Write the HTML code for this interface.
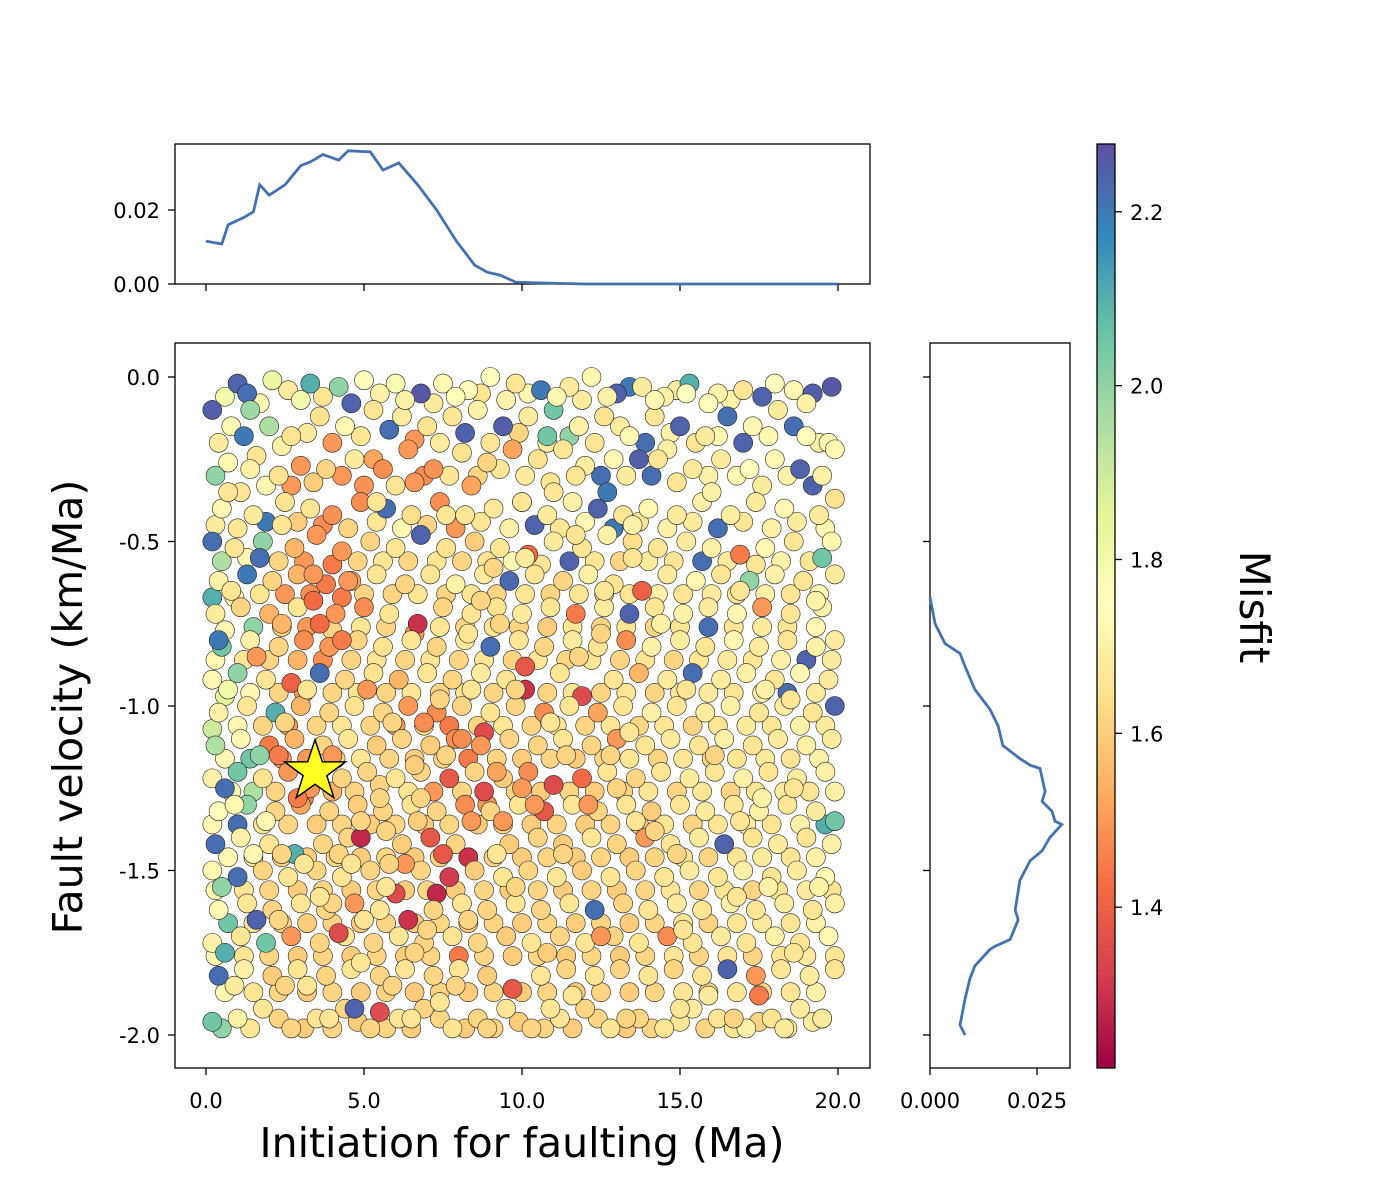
<!DOCTYPE html>
<html><head><meta charset="utf-8">
<style>
html,body{margin:0;padding:0;background:#fff;}
svg{display:block;font-family:"DejaVu Sans","Liberation Sans",sans-serif;}
</style></head>
<body>
<svg id="fig" width="1400" height="1200" viewBox="0 0 1400 1200" xmlns="http://www.w3.org/2000/svg">
<defs>
<linearGradient id="spec" x1="0" y1="1" x2="0" y2="0">
<stop offset="0" stop-color="#9e0142"/><stop offset="0.1" stop-color="#d53e4f"/><stop offset="0.2" stop-color="#f46d43"/><stop offset="0.3" stop-color="#fdae61"/><stop offset="0.4" stop-color="#fee08b"/><stop offset="0.5" stop-color="#ffffbf"/><stop offset="0.6" stop-color="#e6f598"/><stop offset="0.7" stop-color="#abdda4"/><stop offset="0.8" stop-color="#66c2a5"/><stop offset="0.9" stop-color="#3288bd"/><stop offset="1" stop-color="#5e4fa2"/>
</linearGradient>
<clipPath id="mainclip"><rect x="175" y="343" width="695" height="725"/></clipPath>
</defs>
<g id="scatter" clip-path="url(#mainclip)"></g>
<rect x="175" y="343" width="695" height="725" fill="none" stroke="#000" stroke-width="1.3"/>
<rect x="175" y="144" width="695" height="140" fill="none" stroke="#000" stroke-width="1.3"/>
<rect x="930" y="343" width="140" height="725" fill="none" stroke="#000" stroke-width="1.3"/>
<rect x="1097" y="144" width="18" height="924" fill="url(#spec)" stroke="#000" stroke-width="1.3"/>
<g id="axes"></g>
<text x="522" y="1157" font-size="41" text-anchor="middle">Initiation for faulting (Ma)</text>
<text transform="translate(82,707) rotate(-90)" font-size="41" text-anchor="middle">Fault velocity (km/Ma)</text>
<text transform="translate(1240,607) rotate(90)" font-size="42" text-anchor="middle">Misfit</text>
</svg>
<script>
const xTicks=[0,5,10,15,20];
const xTickLabels=["0.0","5.0","10.0","15.0","20.0"];
const yTicks=[0,-0.5,-1,-1.5,-2];
const yTickLabels=["0.0","-0.5","-1.0","-1.5","-2.0"];
const topTicks=[0,0.02];
const topTickLabels=["0.00","0.02"];
const rightTicks=[0,0.025];
const rightTickLabels=["0.000","0.025"];
const cbTicks=[1.4,1.6,1.8,2.0,2.2];
const cbTickLabels=["1.4","1.6","1.8","2.0","2.2"];
const bestFit=[3.45,-1.2];
const topX=[0,0.5,0.7,1.2,1.5,1.7,2.0,2.5,3.0,3.3,3.7,4.2,4.5,5.2,5.6,6.1,6.7,7.3,7.9,8.5,8.9,9.3,9.8,10.5,12,14,16,18,20];
const topD=[0.0116,0.0108,0.016,0.018,0.0195,0.0268,0.024,0.0268,0.032,0.033,0.035,0.0335,0.036,0.0357,0.0308,0.0327,0.0268,0.02,0.0119,0.0051,0.0032,0.0024,0.0005,0.0003,0,0,0,0,0];
const rightY=[-0.67,-0.75,-0.81,-0.84,-0.88,-0.95,-1.01,-1.06,-1.12,-1.16,-1.18,-1.19,-1.26,-1.29,-1.32,-1.35,-1.36,-1.4,-1.44,-1.47,-1.53,-1.62,-1.65,-1.71,-1.73,-1.74,-1.79,-1.83,-1.89,-1.97,-2.0];
const rightD=[0,0.0012,0.0035,0.007,0.0082,0.0105,0.014,0.0159,0.017,0.021,0.0234,0.0257,0.0269,0.0262,0.0285,0.0292,0.0308,0.028,0.0262,0.0234,0.021,0.0199,0.0206,0.0187,0.0152,0.014,0.0105,0.0093,0.0082,0.007,0.0082];
const pts=[
[0.2,-0.1,2.25],[1.0,-0.02,2.24],[1.3,-0.05,2.22],[2.1,-0.01,1.82],[3.3,-0.02,2.1],[4.2,-0.03,2.0],[5.0,-0.01,1.75],[6.0,-0.02,1.78],[6.8,-0.05,2.26],[7.5,-0.02,1.72],[8.3,-0.04,1.74],[9.0,0.0,1.75],[9.8,-0.02,1.66],[10.6,-0.04,2.2],[11.5,-0.03,1.68],[12.2,0.0,1.72],[13.0,-0.05,2.24],[13.8,-0.03,1.68],[14.5,-0.06,1.7],[15.3,-0.02,2.1],[16.2,-0.05,1.7],[17.0,-0.04,1.66],[18.0,-0.02,1.75],[19.2,-0.05,2.25],[19.8,-0.03,2.26],
[0.4,-0.2,1.68],[1.2,-0.18,2.2],[2.0,-0.15,1.95],[2.7,-0.18,1.66],[3.6,-0.12,1.65],[4.4,-0.15,1.72],[5.3,-0.1,1.66],[6.2,-0.12,1.68],[7.0,-0.15,1.65],[7.8,-0.12,1.66],[8.6,-0.1,1.7],[9.4,-0.15,2.25],[10.2,-0.12,1.68],[11.0,-0.1,2.05],[11.8,-0.15,1.66],[12.6,-0.12,1.65],[13.4,-0.18,1.72],[14.2,-0.12,1.66],[15.0,-0.15,2.24],[15.8,-0.18,1.68],[16.5,-0.12,2.22],[17.3,-0.15,1.72],[18.1,-0.1,1.68],[19.0,-0.18,1.74],[19.7,-0.2,1.72],
[0.3,-0.3,2.0],[1.4,-0.28,1.7],[2.3,-0.3,1.65],[3.0,-0.27,1.5],[3.8,-0.28,1.62],[4.7,-0.25,1.68],[5.6,-0.28,1.48],[6.4,-0.22,1.5],[7.2,-0.28,1.49],[8.1,-0.23,1.65],[8.9,-0.26,1.62],[9.7,-0.22,1.52],[10.5,-0.25,1.65],[11.3,-0.22,1.66],[12.0,-0.27,1.69],[12.9,-0.25,1.72],[13.7,-0.25,2.25],[14.6,-0.22,1.7],[15.4,-0.28,1.67],[16.3,-0.25,1.68],[17.2,-0.28,1.74],[18.0,-0.25,1.72],[18.8,-0.28,2.24],[19.5,-0.3,1.7],[5.0,-0.33,1.49],[8.4,-0.33,1.52],[11.7,-0.3,1.66],
[0.5,-0.4,1.72],[1.5,-0.42,1.68],[2.5,-0.38,1.65],[3.3,-0.4,1.66],[4.0,-0.42,1.49],[4.9,-0.38,1.48],[5.7,-0.4,2.22],[6.5,-0.42,1.64],[7.4,-0.38,1.48],[8.2,-0.42,1.66],[9.1,-0.4,1.67],[10.0,-0.38,2.25],[10.8,-0.42,1.68],[11.6,-0.38,1.7],[12.4,-0.4,2.24],[13.2,-0.42,1.66],[14.0,-0.4,1.72],[14.9,-0.42,1.68],[15.7,-0.38,1.7],[16.6,-0.42,1.69],[17.4,-0.38,1.68],[18.3,-0.4,1.72],[19.4,-0.42,1.68],[19.9,-0.37,1.65],
[0.2,-0.5,2.22],[0.9,-0.52,1.66],[1.8,-0.5,2.0],[2.8,-0.52,1.55],[3.5,-0.48,1.5],[4.3,-0.53,1.5],[5.2,-0.5,1.62],[6.0,-0.52,1.66],[6.8,-0.48,2.24],[7.6,-0.52,1.65],[8.5,-0.5,1.6],[9.3,-0.52,1.66],[10.2,-0.54,1.42],[11.0,-0.5,1.68],[11.9,-0.52,1.66],[12.7,-0.48,1.7],[13.5,-0.5,1.64],[14.3,-0.52,1.66],[15.2,-0.5,1.68],[16.0,-0.52,1.7],[16.9,-0.54,1.45],[17.7,-0.52,1.72],[18.6,-0.5,1.66],[19.5,-0.55,2.05],
[0.4,-0.62,1.7],[1.3,-0.6,2.2],[2.1,-0.62,1.62],[2.9,-0.6,1.55],[3.8,-0.63,1.45],[4.6,-0.62,1.52],[5.4,-0.6,1.66],[6.3,-0.63,1.62],[7.1,-0.6,1.66],[7.9,-0.63,1.7],[8.8,-0.6,1.68],[9.6,-0.62,2.23],[10.4,-0.6,1.66],[11.3,-0.62,1.62],[12.1,-0.6,1.7],[12.9,-0.63,1.66],[13.8,-0.65,1.4],[14.6,-0.6,1.68],[15.5,-0.62,1.72],[16.3,-0.6,1.66],[17.2,-0.62,2.0],[18.0,-0.6,1.7],[18.9,-0.62,1.66],[19.9,-0.6,1.68],
[0.3,-0.72,1.68],[1.1,-0.7,1.62],[2.0,-0.72,1.55],[2.9,-0.7,1.66],[3.4,-0.68,1.42],[4.1,-0.72,1.5],[5.0,-0.7,1.48],[5.8,-0.72,1.66],[6.7,-0.75,1.3],[7.5,-0.7,1.62],[8.4,-0.72,1.66],[9.2,-0.7,1.65],[10.0,-0.72,1.68],[10.9,-0.7,1.66],[11.7,-0.72,1.45],[12.6,-0.7,1.68],[13.4,-0.72,2.24],[14.2,-0.7,1.66],[15.1,-0.72,1.7],[15.9,-0.7,1.68],[16.8,-0.72,1.72],[17.6,-0.7,1.5],[18.5,-0.72,1.66],[19.5,-0.7,1.7],
[0.5,-0.82,2.05],[1.4,-0.8,1.7],[2.3,-0.82,1.62],[3.1,-0.8,1.48],[3.9,-0.82,1.5],[4.8,-0.8,1.62],[5.6,-0.82,1.65],[6.5,-0.8,1.66],[7.3,-0.82,1.62],[8.2,-0.8,1.68],[9.0,-0.82,2.22],[9.9,-0.8,1.66],[10.7,-0.82,1.62],[11.6,-0.8,1.68],[12.4,-0.82,1.66],[13.3,-0.8,1.48],[14.1,-0.82,1.7],[15.0,-0.8,1.68],[15.8,-0.82,1.66],[16.7,-0.8,1.72],[17.5,-0.82,1.68],[18.4,-0.8,1.66],[19.3,-0.82,1.7],[10.1,-0.88,1.38],
[0.2,-0.92,1.72],[1.0,-0.9,2.0],[1.9,-0.92,1.66],[2.7,-0.93,1.4],[3.6,-0.9,2.22],[4.4,-0.92,1.62],[5.3,-0.9,1.65],[6.1,-0.92,1.55],[7.0,-0.9,1.66],[7.8,-0.92,1.62],[8.7,-0.9,1.68],[9.5,-0.92,1.66],[10.1,-0.95,1.3],[11.2,-0.9,1.66],[11.9,-0.97,1.35],[12.9,-0.92,1.66],[13.7,-0.9,1.55],[14.6,-0.92,1.68],[15.4,-0.9,2.22],[16.3,-0.92,1.68],[17.1,-0.9,1.7],[18.0,-0.92,1.66],[18.8,-0.9,1.72],[19.7,-0.92,1.68],
[0.4,-1.02,1.7],[1.3,-1.0,1.66],[2.2,-1.02,2.1],[3.0,-1.0,1.55],[3.9,-1.02,1.62],[4.7,-1.0,1.65],[5.6,-1.02,1.62],[6.4,-1.0,1.5],[7.3,-1.02,1.48],[8.1,-1.0,1.62],[9.0,-1.02,1.65],[9.8,-1.0,1.62],[10.7,-1.02,1.48],[11.5,-1.0,1.66],[12.4,-1.02,1.52],[13.2,-1.0,1.66],[14.1,-1.02,1.7],[14.9,-1.0,1.66],[15.8,-1.02,1.68],[16.6,-1.0,1.7],[17.5,-1.02,1.66],[18.3,-1.0,1.68],[19.2,-1.02,1.66],[19.9,-1.0,2.24],
[0.3,-1.12,1.95],[1.1,-1.1,1.72],[2.0,-1.12,1.45],[2.8,-1.1,1.55],[3.7,-1.12,1.62],[4.5,-1.1,1.66],[5.4,-1.12,1.6],[6.2,-1.1,1.62],[7.1,-1.12,1.6],[7.9,-1.1,1.48],[8.8,-1.08,1.35],[9.6,-1.1,1.62],[10.5,-1.12,1.62],[11.3,-1.1,1.66],[12.2,-1.12,1.62],[13.0,-1.1,1.5],[13.9,-1.12,1.66],[14.7,-1.1,1.68],[15.6,-1.12,1.66],[16.4,-1.1,1.7],[17.3,-1.12,1.66],[18.1,-1.1,1.68],[19.0,-1.12,1.7],[19.8,-1.1,1.68],
[0.2,-1.22,1.7],[1.0,-1.2,2.05],[1.8,-1.22,1.65],[2.6,-1.2,1.5],[4.3,-1.22,1.62],[5.1,-1.2,1.62],[6.0,-1.22,1.66],[6.8,-1.2,1.62],[7.7,-1.22,1.38],[8.5,-1.2,1.62],[9.4,-1.22,1.6],[10.2,-1.2,1.48],[11.0,-1.24,1.35],[11.9,-1.22,1.42],[12.7,-1.2,1.66],[13.6,-1.22,1.62],[14.4,-1.2,1.66],[15.3,-1.22,1.68],[16.1,-1.2,1.66],[17.0,-1.22,1.7],[17.8,-1.2,1.66],[18.7,-1.22,1.68],[19.6,-1.2,1.7],[8.8,-1.26,1.35],
[0.4,-1.32,1.75],[1.3,-1.3,2.0],[2.2,-1.32,1.62],[3.0,-1.3,1.52],[3.9,-1.32,1.62],[4.8,-1.3,1.6],[5.6,-1.32,1.62],[6.5,-1.3,1.66],[7.3,-1.32,1.62],[8.2,-1.3,1.48],[9.0,-1.32,1.62],[9.9,-1.3,1.66],[10.7,-1.32,1.38],[11.6,-1.3,1.66],[12.4,-1.32,1.62],[13.3,-1.3,1.66],[14.1,-1.32,1.6],[15.0,-1.3,1.66],[15.8,-1.32,1.68],[16.7,-1.3,1.66],[17.5,-1.32,1.7],[18.4,-1.3,1.66],[19.3,-1.32,1.68],[19.9,-1.35,2.05],
[0.3,-1.42,2.22],[1.1,-1.4,1.7],[2.0,-1.42,1.66],[2.8,-1.45,2.1],[3.7,-1.42,1.62],[4.5,-1.4,1.62],[4.9,-1.4,1.28],[6.2,-1.42,1.6],[7.1,-1.4,1.38],[7.9,-1.42,1.62],[8.3,-1.46,1.3],[9.6,-1.42,1.6],[10.5,-1.4,1.62],[11.3,-1.42,1.6],[12.2,-1.4,1.66],[13.0,-1.42,1.62],[13.9,-1.4,1.5],[14.7,-1.42,1.66],[15.6,-1.4,1.68],[16.4,-1.42,2.24],[17.3,-1.4,1.66],[18.1,-1.42,1.68],[19.0,-1.4,1.66],[19.8,-1.42,1.7],
[0.2,-1.5,1.72],[1.0,-1.52,2.22],[1.8,-1.5,1.62],[2.6,-1.52,1.66],[3.5,-1.5,1.62],[4.3,-1.52,1.66],[5.2,-1.5,1.62],[6.0,-1.57,1.35],[6.8,-1.5,1.62],[7.7,-1.52,1.32],[8.5,-1.5,1.6],[9.4,-1.52,1.66],[10.2,-1.5,1.62],[11.1,-1.52,1.66],[11.9,-1.5,1.6],[12.8,-1.52,1.66],[13.6,-1.5,1.62],[14.5,-1.52,1.66],[15.3,-1.5,1.68],[16.2,-1.52,1.66],[17.0,-1.5,1.7],[17.9,-1.52,1.66],[18.7,-1.5,1.68],[19.6,-1.52,1.72],[7.3,-1.57,1.28],
[0.4,-1.62,1.72],[1.3,-1.6,1.66],[2.1,-1.62,1.62],[3.0,-1.6,1.66],[3.8,-1.62,1.62],[4.7,-1.6,1.5],[5.5,-1.62,1.66],[6.4,-1.65,1.3],[7.2,-1.62,1.62],[8.1,-1.6,1.66],[8.9,-1.62,1.62],[9.8,-1.6,1.66],[10.6,-1.62,1.62],[11.5,-1.6,1.66],[12.3,-1.62,2.22],[13.2,-1.6,1.62],[14.0,-1.62,1.66],[14.9,-1.6,1.68],[15.7,-1.62,1.66],[16.6,-1.6,1.7],[17.4,-1.62,1.66],[18.3,-1.6,1.68],[19.2,-1.62,1.66],[19.9,-1.6,1.7],
[0.2,-1.72,1.7],[1.1,-1.7,1.66],[1.9,-1.72,2.05],[2.7,-1.7,1.5],[3.6,-1.72,1.62],[4.4,-1.7,1.66],[5.3,-1.72,1.62],[6.1,-1.7,1.66],[6.9,-1.72,1.62],[7.8,-1.7,1.66],[8.6,-1.72,1.62],[9.5,-1.7,1.6],[10.3,-1.72,1.66],[11.2,-1.7,1.62],[12.0,-1.72,1.66],[12.9,-1.7,1.62],[13.7,-1.72,1.66],[14.6,-1.7,1.48],[15.4,-1.72,1.66],[16.3,-1.7,1.68],[17.1,-1.72,1.66],[18.0,-1.7,1.7],[18.8,-1.72,1.66],[19.7,-1.7,1.72],[4.2,-1.69,1.35],
[0.4,-1.82,2.22],[1.2,-1.8,1.7],[2.1,-1.82,1.6],[2.9,-1.8,1.66],[3.8,-1.82,1.62],[4.6,-1.8,1.66],[5.5,-1.82,1.62],[6.3,-1.8,1.66],[7.2,-1.82,1.62],[8.0,-1.8,1.66],[8.9,-1.82,1.6],[9.7,-1.86,1.38],[10.6,-1.82,1.66],[11.4,-1.8,1.62],[12.3,-1.82,1.66],[13.1,-1.8,1.62],[14.0,-1.82,1.66],[14.8,-1.8,1.62],[15.7,-1.82,1.66],[16.5,-1.8,2.24],[17.4,-1.82,1.5],[18.2,-1.8,1.66],[19.1,-1.82,1.68],[19.9,-1.8,1.66],
[0.2,-1.96,2.05],[1.0,-1.95,1.7],[1.8,-1.92,1.66],[2.7,-1.98,1.62],[3.5,-1.95,1.66],[4.4,-1.92,1.62],[5.2,-1.98,1.62],[6.1,-1.95,1.66],[6.9,-1.92,1.62],[7.8,-1.98,1.66],[8.6,-1.95,1.62],[9.5,-1.92,1.66],[10.3,-1.98,1.62],[11.2,-1.95,1.66],[12.0,-1.92,1.62],[12.8,-1.98,1.66],[13.7,-1.95,1.62],[14.5,-1.98,1.66],[15.4,-1.92,1.68],[16.2,-1.95,1.66],[17.1,-1.98,1.7],[17.9,-1.95,1.66],[18.8,-1.92,1.68],[19.5,-1.95,2.24],[5.5,-1.93,1.35],
[0.7,-0.35,1.66],[1.7,-0.55,2.22],[2.4,-0.75,1.55],[3.2,-0.95,1.66],[4.0,-1.15,1.5],[4.9,-1.35,1.62],[5.7,-1.55,1.66],[6.6,-1.75,1.62],[7.4,-1.9,1.66],[8.3,-1.65,1.62],[9.2,-1.45,1.66],[10.0,-1.25,1.5],[10.9,-1.05,1.66],[11.8,-0.85,1.62],[12.6,-0.65,1.66],[13.5,-0.45,1.7],[14.3,-0.25,1.66],[15.2,-0.05,1.75],[16.0,-0.35,1.7],[16.9,-0.65,1.66],[17.7,-0.95,1.7],[18.6,-1.25,1.66],[19.4,-1.55,1.7],[0.6,-1.75,2.1],
[0.8,-0.65,1.66],[1.6,-0.85,1.5],[2.5,-1.05,1.62],[3.3,-1.25,1.5],[4.2,-1.45,1.62],[5.0,-1.65,1.66],[5.9,-1.85,1.62],[6.7,-1.35,1.6],[7.6,-1.15,1.62],[8.4,-0.95,1.66],[9.3,-0.75,1.62],[10.1,-0.55,1.68],[11.0,-0.35,1.66],[11.8,-0.15,1.7],[12.7,-0.35,2.2],[13.5,-0.55,1.66],[14.4,-0.75,1.7],[15.2,-0.95,1.66],[16.1,-1.15,1.62],[16.9,-1.35,1.66],[17.8,-1.55,1.7],[18.6,-1.75,1.66],[19.5,-1.95,1.68],[0.6,-1.25,2.22],
[1.5,-1.45,1.72],[2.3,-1.65,1.62],[3.2,-1.85,1.66],[4.0,-1.6,1.62],[4.9,-1.78,1.66],[5.7,-1.38,1.62],[6.6,-1.18,1.6],[7.4,-0.98,1.62],[8.3,-0.78,1.66],[9.1,-0.58,1.62],[10.0,-0.38,1.66],[10.8,-0.18,2.05],[11.7,-0.48,1.66],[12.5,-0.78,1.62],[13.4,-1.08,1.66],[14.2,-1.38,1.62],[15.1,-1.68,1.66],[15.9,-1.88,1.68],[16.8,-1.58,1.66],[17.6,-1.28,1.7],[18.5,-0.98,1.66],[19.3,-0.68,1.7],[0.9,-1.85,1.68],[1.7,-1.15,2.0],
[2.4,-0.45,1.66],[3.4,-0.6,1.5],[4.3,-0.8,1.45],[5.1,-0.95,1.5],[5.9,-1.05,1.62],[6.8,-1.28,1.62],[7.5,-1.45,1.38],[8.4,-1.35,1.5],[9.2,-1.2,1.52],[10.4,-1.3,1.5],[11.3,-1.45,1.62],[12.1,-1.3,1.5],[13.0,-1.25,1.62],[3.6,-1.58,1.66],[4.6,-1.48,1.66],[5.5,-1.28,1.62],[6.3,-1.48,1.5],[7.0,-1.68,1.62],[7.9,-1.85,1.62],[8.7,-1.12,1.5],[9.8,-1.55,1.62],[10.8,-1.75,1.6],[11.6,-1.88,1.66],[12.5,-1.7,1.5],
[1.4,-0.1,1.98],[3.0,-0.07,1.8],[4.6,-0.08,2.24],[6.3,-0.07,1.7],[7.9,-0.06,1.76],[9.5,-0.07,1.7],[11.1,-0.06,1.72],[12.7,-0.06,1.7],[14.2,-0.07,1.72],[15.9,-0.08,1.74],[17.6,-0.06,2.24],[19.0,-0.08,1.7],[0.9,-1.3,1.72],[1.6,-1.65,2.24],[0.5,-1.55,2.0],[0.7,-0.95,1.8],[0.4,-0.8,2.2],[1.9,-1.35,1.72],[2.4,-1.45,1.62],[2.5,-1.85,1.62],[3.9,-1.95,1.66],[4.7,-1.92,2.24],[6.5,-1.95,1.66],[8.9,-1.98,1.62],
[10.9,-1.92,1.66],[13.3,-1.95,1.62],[15.0,-1.92,1.66],[16.7,-1.95,1.62],[18.3,-1.98,1.68],[17.5,-1.88,1.45],[14.9,-1.45,1.62],[13.6,-1.35,1.66],[12.8,-1.15,1.62],[11.4,-1.15,1.62],[9.8,-0.95,1.62],[8.7,-0.68,1.62],[7.6,-0.42,1.66],[6.6,-0.32,1.5],[5.4,-0.38,1.66],[4.5,-0.62,1.5],[3.6,-0.75,1.42],[3.1,-1.48,1.66],[2.9,-1.28,1.45],[2.3,-1.15,1.45],[5.8,-1.48,1.62],[6.9,-1.05,1.48],[8.1,-1.1,1.48],[9.4,-1.35,1.5]
];
const pts2=[
[0.6,-0.06,1.8],[1.7,-0.08,1.72],[2.6,-0.04,1.68],[3.7,-0.06,1.66],[5.5,-0.05,1.7],[7.2,-0.08,1.68],[8.7,-0.05,1.66],[10.2,-0.05,1.72],[11.9,-0.07,1.68],[13.4,-0.03,2.2],[14.9,-0.04,1.68],[16.6,-0.07,1.7],[18.6,-0.04,1.72],
[0.8,-0.15,1.72],[1.6,-0.24,1.66],[2.4,-0.21,1.7],[3.2,-0.17,1.68],[4.0,-0.2,1.5],[4.9,-0.18,1.66],[5.8,-0.16,2.22],[6.6,-0.19,1.5],[7.4,-0.2,1.68],[8.2,-0.17,2.24],[9.0,-0.2,1.66],[9.9,-0.17,1.62],[10.8,-0.2,1.68],[11.5,-0.18,2.0],[12.3,-0.2,1.66],[13.1,-0.15,1.68],[13.9,-0.2,2.22],[14.7,-0.17,1.7],[15.5,-0.2,1.66],[16.2,-0.18,1.72],[17.0,-0.2,2.24],[17.8,-0.18,1.72],[18.6,-0.15,2.22],[19.4,-0.2,1.7],
[0.7,-0.26,1.72],[1.1,-0.35,1.66],[1.9,-0.33,1.72],[2.7,-0.33,1.5],[3.4,-0.32,1.6],[4.3,-0.3,1.5],[5.3,-0.25,1.52],[6.0,-0.33,1.66],[6.9,-0.3,1.48],[7.7,-0.3,1.66],[8.6,-0.3,1.62],[9.3,-0.28,1.66],[10.1,-0.3,1.68],[10.9,-0.32,1.66],[12.5,-0.3,2.22],[13.3,-0.3,1.68],[14.1,-0.3,2.22],[14.9,-0.32,1.66],[15.9,-0.3,1.7],[16.8,-0.3,1.72],[17.6,-0.33,1.68],[18.4,-0.3,1.7],[19.2,-0.33,2.24],[19.9,-0.22,1.72],
[0.3,-0.45,1.68],[1.0,-0.46,1.66],[1.9,-0.44,2.2],[2.9,-0.44,1.6],[3.7,-0.45,1.48],[4.5,-0.46,1.62],[5.4,-0.44,1.66],[6.2,-0.46,1.72],[7.0,-0.45,1.62],[7.9,-0.46,1.5],[8.7,-0.44,1.66],[9.6,-0.46,1.7],[10.4,-0.45,2.24],[11.2,-0.46,1.66],[12.0,-0.44,1.72],[12.9,-0.46,2.2],[13.7,-0.44,1.66],[14.6,-0.46,1.7],[15.4,-0.44,1.68],[16.2,-0.46,2.22],[17.0,-0.44,1.66],[17.9,-0.46,1.7],[18.7,-0.44,1.68],[19.6,-0.46,1.72],
[0.5,-0.56,1.95],[1.3,-0.55,1.72],[2.3,-0.56,1.62],[3.1,-0.56,1.5],[4.0,-0.57,1.45],[4.8,-0.56,1.62],[5.6,-0.56,1.66],[6.4,-0.56,1.62],[7.3,-0.56,1.66],[8.1,-0.56,1.62],[8.9,-0.56,1.66],[9.7,-0.56,1.72],[10.6,-0.57,1.66],[11.5,-0.56,2.24],[12.3,-0.56,1.66],[13.1,-0.56,1.62],[14.0,-0.56,1.68],[14.8,-0.56,1.66],[15.7,-0.56,2.22],[16.5,-0.56,1.68],[17.4,-0.57,1.66],[18.2,-0.56,1.7],[19.1,-0.56,1.66],[19.8,-0.5,1.72],
[0.2,-0.67,2.1],[0.9,-0.67,1.72],[1.7,-0.66,1.66],[2.5,-0.66,1.5],[3.3,-0.66,1.48],[4.3,-0.67,1.45],[5.0,-0.66,1.62],[5.9,-0.66,1.62],[6.7,-0.66,1.66],[7.6,-0.66,1.62],[8.4,-0.66,1.66],[9.2,-0.66,1.62],[10.1,-0.66,1.66],[10.9,-0.66,1.62],[11.8,-0.66,1.66],[12.6,-0.66,1.62],[13.4,-0.66,1.66],[14.3,-0.66,1.7],[15.1,-0.66,1.66],[16.0,-0.66,1.68],[16.8,-0.66,1.66],[17.7,-0.66,1.7],[18.5,-0.66,1.66],[19.4,-0.66,1.72],
[0.6,-0.77,1.72],[1.5,-0.76,2.0],[2.4,-0.76,1.62],[3.2,-0.76,1.5],[4.0,-0.77,1.62],[4.9,-0.76,1.66],[5.7,-0.76,1.62],[6.6,-0.78,1.5],[7.4,-0.76,1.66],[8.2,-0.76,1.62],[9.1,-0.76,1.66],[9.9,-0.76,1.62],[10.8,-0.76,1.6],[11.6,-0.76,1.66],[12.5,-0.76,1.62],[13.3,-0.76,1.66],[14.2,-0.76,1.62],[15.0,-0.76,1.66],[15.9,-0.76,2.22],[16.7,-0.76,1.66],[17.6,-0.76,1.68],[18.4,-0.76,1.66],[19.3,-0.76,1.72],[19.9,-0.8,1.68],
[0.3,-0.86,1.72],[1.2,-0.86,1.66],[2.0,-0.86,1.62],[2.9,-0.86,1.55],[3.7,-0.86,1.48],[4.6,-0.86,1.62],[5.4,-0.86,1.66],[6.3,-0.86,1.62],[7.1,-0.86,1.66],[8.0,-0.86,1.62],[8.8,-0.86,1.66],[9.7,-0.86,1.62],[10.5,-0.86,1.66],[11.4,-0.86,1.62],[12.2,-0.86,1.66],[13.1,-0.86,1.62],[13.9,-0.86,1.66],[14.8,-0.86,1.62],[15.6,-0.86,1.66],[16.5,-0.86,1.68],[17.3,-0.86,1.66],[18.2,-0.86,1.7],[19.0,-0.86,2.24],[19.8,-0.86,1.68],
[0.6,-0.97,1.85],[1.4,-0.96,1.72],[2.3,-0.96,1.62],[3.1,-0.96,1.5],[4.0,-0.96,1.62],[4.8,-0.96,1.66],[5.7,-0.96,1.62],[6.5,-0.96,1.66],[7.4,-0.96,1.62],[8.2,-0.96,1.66],[9.1,-0.96,1.62],[9.9,-0.96,1.66],[10.8,-0.96,1.62],[11.6,-0.96,1.66],[12.5,-0.96,1.62],[13.3,-0.96,1.66],[14.2,-0.96,1.62],[15.0,-0.96,1.66],[15.9,-0.96,1.68],[16.7,-0.96,1.66],[17.6,-0.96,1.7],[18.4,-0.96,2.22],[19.3,-0.96,1.68],
[0.2,-1.07,1.9],[1.0,-1.06,1.72],[1.8,-1.06,1.62],[2.6,-1.06,1.5],[3.5,-1.06,1.62],[4.3,-1.06,1.66],[5.2,-1.06,1.62],[6.0,-1.06,1.5],[6.9,-1.06,1.62],[7.7,-1.06,1.45],[8.6,-1.06,1.62],[9.4,-1.06,1.66],[10.3,-1.06,1.62],[11.1,-1.06,1.66],[12.0,-1.06,1.62],[12.8,-1.06,1.66],[13.7,-1.06,1.62],[14.5,-1.06,1.66],[15.4,-1.06,1.62],[16.2,-1.06,1.66],[17.1,-1.06,1.68],[17.9,-1.06,1.66],[18.8,-1.06,1.7],[19.6,-1.06,1.68],
[0.6,-1.16,1.72],[1.4,-1.16,2.05],[2.4,-1.16,1.5],[3.2,-1.16,1.5],[4.1,-1.16,1.62],[4.9,-1.16,1.66],[5.8,-1.16,1.62],[6.6,-1.16,1.6],[7.5,-1.16,1.62],[8.3,-1.16,1.45],[9.2,-1.16,1.62],[10.0,-1.16,1.6],[10.9,-1.16,1.62],[11.7,-1.16,1.6],[12.6,-1.16,1.62],[13.4,-1.16,1.66],[14.3,-1.16,1.62],[15.1,-1.16,1.66],[16.0,-1.16,1.62],[16.8,-1.16,1.66],[17.7,-1.16,1.68],[18.5,-1.16,1.66],[19.4,-1.16,1.7],
[0.8,-1.26,1.72],[1.5,-1.26,1.95],[2.2,-1.26,1.62],[3.1,-1.28,1.45],[4.0,-1.26,1.55],[4.7,-1.26,1.62],[5.5,-1.24,1.62],[6.4,-1.26,1.66],[7.2,-1.26,1.5],[8.1,-1.26,1.62],[8.9,-1.3,1.5],[9.8,-1.26,1.62],[10.6,-1.26,1.6],[11.5,-1.26,1.62],[12.3,-1.26,1.6],[13.2,-1.26,1.62],[14.0,-1.26,1.66],[14.9,-1.26,1.62],[15.7,-1.26,1.66],[16.6,-1.26,1.62],[17.4,-1.26,1.66],[18.3,-1.26,1.68],[19.1,-1.26,1.66],[19.9,-1.26,1.7],
[0.2,-1.36,1.72],[1.0,-1.36,2.22],[1.8,-1.36,1.66],[2.6,-1.36,1.62],[3.5,-1.36,1.6],[4.3,-1.36,1.62],[5.2,-1.36,1.6],[6.0,-1.36,1.62],[6.9,-1.36,1.6],[7.7,-1.36,1.62],[8.6,-1.36,1.6],[9.4,-1.36,1.62],[10.3,-1.36,1.6],[11.1,-1.36,1.62],[12.0,-1.36,1.6],[12.8,-1.36,1.62],[13.7,-1.36,1.6],[14.5,-1.36,1.66],[15.4,-1.36,1.62],[16.2,-1.36,1.66],[17.1,-1.36,1.68],[17.9,-1.36,1.66],[18.8,-1.36,1.7],[19.6,-1.36,2.1],
[0.7,-1.46,1.72],[1.5,-1.46,1.66],[2.4,-1.46,1.62],[3.2,-1.46,1.6],[4.1,-1.46,1.62],[4.9,-1.46,1.6],[5.7,-1.46,1.62],[6.6,-1.46,1.6],[7.4,-1.46,1.62],[8.3,-1.46,1.6],[9.1,-1.46,1.62],[10.0,-1.46,1.6],[10.8,-1.46,1.62],[11.7,-1.46,1.6],[12.5,-1.46,1.62],[13.4,-1.46,1.6],[14.2,-1.46,1.62],[15.1,-1.46,1.66],[15.9,-1.46,1.62],[16.8,-1.46,1.66],[17.6,-1.46,1.68],[18.5,-1.46,1.66],[19.3,-1.46,1.7],
[0.3,-1.56,1.72],[1.2,-1.56,1.66],[2.0,-1.56,1.62],[2.9,-1.56,1.6],[3.7,-1.56,1.62],[4.6,-1.56,1.6],[5.4,-1.56,1.62],[6.3,-1.56,1.6],[7.0,-1.56,1.62],[7.9,-1.56,1.6],[8.8,-1.56,1.62],[9.6,-1.56,1.6],[10.5,-1.56,1.62],[11.3,-1.56,1.6],[12.2,-1.56,1.62],[13.0,-1.56,1.6],[13.9,-1.56,1.62],[14.7,-1.56,1.66],[15.6,-1.56,1.62],[16.4,-1.56,1.66],[17.3,-1.56,1.62],[18.1,-1.56,1.66],[19.0,-1.56,1.68],[19.8,-1.56,1.66],
[0.7,-1.66,2.05],[1.5,-1.66,1.66],[2.4,-1.66,1.62],[3.2,-1.66,1.6],[4.0,-1.66,1.62],[4.9,-1.66,1.6],[5.7,-1.66,1.62],[6.6,-1.66,1.6],[7.4,-1.66,1.62],[8.3,-1.66,1.6],[9.1,-1.66,1.62],[10.0,-1.66,1.6],[10.8,-1.66,1.62],[11.7,-1.66,1.6],[12.5,-1.66,1.62],[13.4,-1.66,1.6],[14.2,-1.66,1.62],[15.1,-1.66,1.66],[15.9,-1.66,1.62],[16.8,-1.66,1.66],[17.6,-1.66,1.68],[18.5,-1.66,1.66],[19.3,-1.66,1.7],
[0.3,-1.76,1.72],[1.2,-1.76,1.66],[2.0,-1.76,1.62],[2.9,-1.76,1.6],[3.7,-1.76,1.62],[4.6,-1.76,1.6],[5.4,-1.76,1.62],[6.3,-1.76,1.6],[7.1,-1.76,1.62],[8.0,-1.76,1.45],[8.8,-1.76,1.62],[9.7,-1.76,1.6],[10.5,-1.76,1.62],[11.4,-1.76,1.6],[12.2,-1.76,1.62],[13.1,-1.76,1.6],[13.9,-1.76,1.62],[14.8,-1.76,1.66],[15.6,-1.76,1.62],[16.5,-1.76,1.66],[17.3,-1.76,1.62],[18.2,-1.76,1.66],[19.0,-1.76,1.68],[19.9,-1.76,1.66],
[0.6,-1.87,1.72],[1.5,-1.87,1.66],[2.3,-1.87,1.62],[3.2,-1.87,1.6],[4.0,-1.87,1.62],[4.9,-1.87,1.6],[5.7,-1.87,1.62],[6.6,-1.87,1.6],[7.4,-1.87,1.62],[8.3,-1.87,1.6],[9.1,-1.87,1.62],[10.0,-1.87,1.6],[10.8,-1.87,1.62],[11.7,-1.87,1.6],[12.5,-1.87,1.62],[13.4,-1.87,1.6],[14.2,-1.87,1.62],[15.1,-1.87,1.66],[15.9,-1.87,1.62],[16.8,-1.87,1.66],[17.6,-1.87,1.62],[18.5,-1.87,1.66],[19.3,-1.87,1.7],
[0.5,-1.98,2.0],[1.4,-1.98,1.66],[2.3,-1.95,1.62],[3.1,-1.98,1.6],[4.0,-1.98,1.62],[4.8,-1.96,1.6],[5.7,-1.98,1.62],[6.5,-1.98,1.6],[7.4,-1.95,1.62],[8.2,-1.98,1.6],[9.1,-1.98,1.62],[9.9,-1.96,1.6],[10.7,-1.98,1.62],[11.6,-1.98,1.6],[12.4,-1.95,1.62],[13.3,-1.98,1.6],[14.1,-1.98,1.62],[15.0,-1.96,1.66],[15.8,-1.98,1.62],[16.7,-1.98,1.66],[17.5,-1.96,1.62],[18.4,-1.98,1.66],[19.2,-1.96,1.68]
];
function xS(v){return 206+(v-0)*(838-206)/20;}
function yS(v){return 377+(0-v)*(1035-377)/2;}
function topY(v){return 284-v*(284-210)/0.02;}
function rightX(v){return 930+v*(1037-930)/0.025;}
const cbMin=1.215,cbMax=2.278;
function cbY(v){return 1068-(v-cbMin)/(cbMax-cbMin)*924;}
const stops=["#9e0142","#d53e4f","#f46d43","#fdae61","#fee08b","#ffffbf","#e6f598","#abdda4","#66c2a5","#3288bd","#5e4fa2"];
function hex2rgb(h){return [parseInt(h.slice(1,3),16),parseInt(h.slice(3,5),16),parseInt(h.slice(5,7),16)];}
function cmap(v){let t=(v-cbMin)/(cbMax-cbMin);t=Math.max(0,Math.min(1,t))*10;let i=Math.min(9,Math.floor(t));let f=t-i;const a=hex2rgb(stops[i]),b=hex2rgb(stops[i+1]);return "rgb("+a.map((c,k)=>Math.round(c+(b[k]-c)*f)).join(",")+")";}
const NS="http://www.w3.org/2000/svg";
function mk(tag,attrs,parent){const e=document.createElementNS(NS,tag);for(const k in attrs)e.setAttribute(k,attrs[k]);parent.appendChild(e);return e;}
const sc=document.getElementById("scatter");
const allPts=[];
for(let i=0;i<Math.max(pts.length,pts2.length);i++){if(i<pts2.length)allPts.push(pts2[i]);if(i<pts.length)allPts.push(pts[i]);}
allPts.forEach(p=>{
 const c=mk("circle",{cx:xS(p[0]),cy:yS(p[1]),r:9.5,fill:cmap(p[2]),stroke:"#222","stroke-width":0.6},sc);
 
 
});
const fig=document.getElementById("fig");
const ax=document.getElementById("axes");
(function(){const cx=xS(bestFit[0]),cy=yS(bestFit[1]);let d="";for(let i=0;i<10;i++){const r=i%2?12.5:32;const a=-Math.PI/2+i*Math.PI/5;d+=(i?"L":"M")+(cx+r*Math.cos(a)).toFixed(1)+","+(cy+r*Math.sin(a)).toFixed(1);}
const s=mk("path",{d:d+"Z",fill:"#ffff22",stroke:"#000","stroke-width":1.5},fig);

})();
(function(){const d=topX.map((x,i)=>(i?"L":"M")+xS(x).toFixed(1)+","+topY(topD[i]).toFixed(1)).join("");
const l=mk("path",{d:d,fill:"none",stroke:"#4472b0","stroke-width":2.8},fig);

})();
(function(){const d=rightY.map((y,i)=>(i?"L":"M")+rightX(rightD[i]).toFixed(1)+","+yS(y).toFixed(1)).join("");
const l=mk("path",{d:d,fill:"none",stroke:"#4472b0","stroke-width":2.8},fig);

})();
function tick(x1,y1,x2,y2){const t=mk("line",{x1:x1,y1:y1,x2:x2,y2:y2,stroke:"#000","stroke-width":1.3},ax);}
function label(x,y,txt,anchor,name){const t=mk("text",{x:x,y:y,"font-size":21,"text-anchor":anchor},ax);t.textContent=txt;}
xTicks.forEach((v,i)=>{const x=xS(v);tick(x,1068,x,1075);label(x,1108,xTickLabels[i],"middle","x-tick-label");tick(x,284,x,291);});
yTicks.forEach((v,i)=>{const y=yS(v);tick(175,y,168,y);label(160,y+8,yTickLabels[i],"end","y-tick-label");tick(930,y,923,y);});
topTicks.forEach((v,i)=>{const y=topY(v);tick(175,y,168,y);label(160,y+8,topTickLabels[i],"end","top-y-tick-label");});
rightTicks.forEach((v,i)=>{const x=rightX(v);tick(x,1068,x,1075);label(x,1108,rightTickLabels[i],"middle","right-x-tick-label");});
cbTicks.forEach((v,i)=>{const y=cbY(v);tick(1115,y,1122,y);label(1130,y+8,cbTickLabels[i],"start","colorbar-tick-label");});
</script>
</body></html>
